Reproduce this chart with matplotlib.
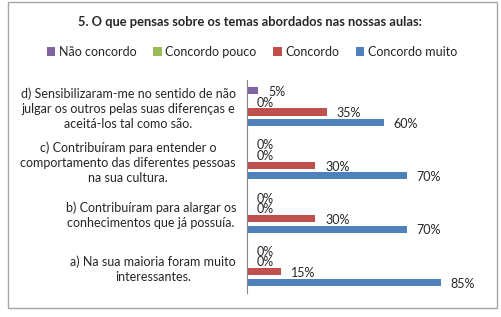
import matplotlib
matplotlib.use("Agg")
import matplotlib.pyplot as plt
from matplotlib.patches import Rectangle
import numpy as np

plt.rcParams['font.family'] = ['Lato', 'DejaVu Sans']

categories = [
    "a) Na sua maioria foram muito\ninteressantes.",
    "b) Contribuíram para alargar os\nconhecimentos que já possuía.",
    "c) Contribuíram para entender o\ncomportamento das diferentes pessoas\nna sua cultura.",
    "d) Sensibilizaram-me no sentido de não\njulgar os outros pelas suas diferenças e\naceitá-los tal como são.",
]
series_names = ["Não concordo", "Concordo pouco", "Concordo", "Concordo muito"]
nao_concordo = [0, 0, 0, 5]
concordo_pouco = [0, 0, 0, 0]
concordo = [15, 30, 30, 35]
concordo_muito = [85, 70, 70, 60]
series = [nao_concordo, concordo_pouco, concordo, concordo_muito]
colors = ["#8064A2", "#9BBB59", "#C0504D", "#4F81BD"]
title = "5. O que pensas sobre os temas abordados nas nossas aulas:"

fig = plt.figure(figsize=(5.01, 3.17), dpi=100)
ax = fig.add_axes([247/501, 1-293/317, (475-247)/501, (293-80)/317])

y = np.arange(len(categories))
step = 0.2
h = 0.135
offsets = [1.5*step, 0.5*step, -0.5*step, -1.5*step]
handles = []
for vals, off, c, name in zip(series, offsets, colors, series_names):
    b = ax.barh(y + off, vals, height=h, color=c, label=name)
    handles.append(b)
    for yi, v in zip(y, vals):
        ax.annotate(f"{v}%", (v, yi + off), xytext=(7, -1), textcoords="offset points",
                    va="center", ha="left", fontsize=9, color="#262626")

ax.set_xlim(0, 100)
ax.set_ylim(-0.5, 3.5)
ax.set_yticks(y)
ax.set_yticklabels(categories, fontsize=9, multialignment='center', linespacing=1.3, color="#262626")
ax.tick_params(axis='y', length=0, pad=8)
ax.set_xticks([])
for s in ['top', 'right', 'bottom']:
    ax.spines[s].set_visible(False)
ax.spines['left'].set_color('#868686')

fig.text(250/501, 1-22/317, title, ha='center', va='center', fontsize=9.3, fontweight='bold', color="#262626")
fig.legend(handles=handles, loc='center', bbox_to_anchor=(252/501, 1-52/317), ncol=4,
           frameon=False, fontsize=9, handlelength=0.7, handleheight=0.7,
           handletextpad=0.3, columnspacing=1.3, labelcolor="#262626")

fig.patches.append(Rectangle((8/501, 1-308/317), 489/501, 306/317, transform=fig.transFigure,
                             fill=False, edgecolor="#A6A6A6", linewidth=1))

fig.savefig("out.png", dpi=100)
